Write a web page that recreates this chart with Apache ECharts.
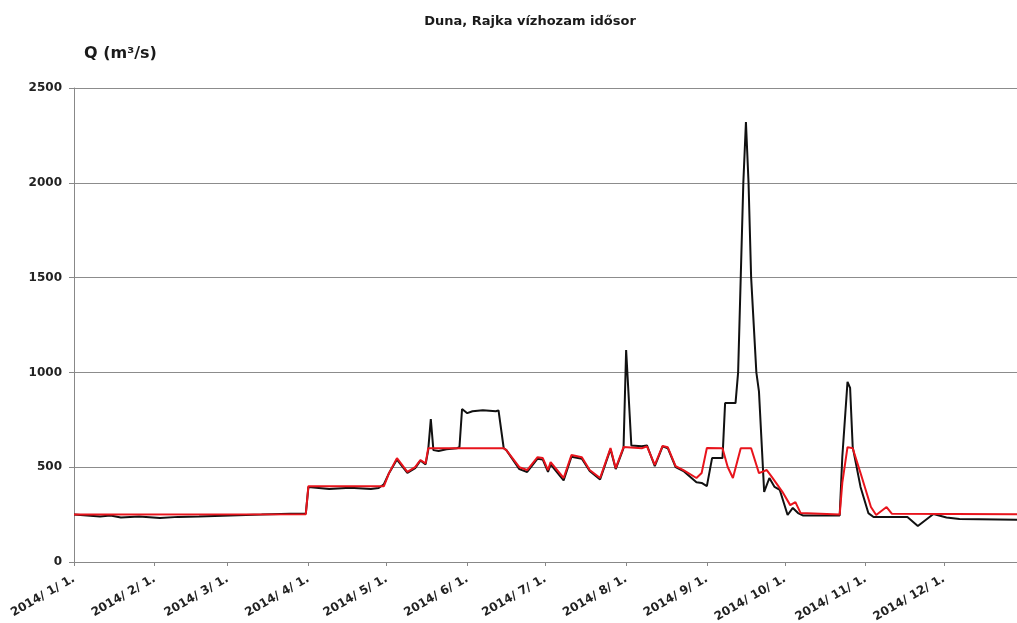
<!DOCTYPE html>
<html>
<head>
<meta charset="utf-8">
<script src="https://cdn.jsdelivr.net/npm/echarts@6/dist/echarts.min.js"></script>
<style>
html,body{margin:0;padding:0;background:#fff;}
#chart{width:1017px;height:623px;}
</style>
</head>
<body>
<div id="chart"></div>
<script>
// Day-of-year index (0 = 2014-01-01) and discharge values
var blackDays = [0, 10, 14, 18, 25, 33, 40, 48, 60, 72, 83, 89, 90, 98, 106, 114, 117, 119, 121, 124, 128, 131, 133, 135, 136, 137, 138, 140, 143, 147, 148, 149, 151, 153, 157, 162, 163, 165, 166, 171, 174, 178, 180, 182, 183, 188, 191, 195, 198, 202, 206, 208, 211, 212, 214, 218, 220, 223, 226, 228, 231, 234, 239, 241, 243, 245, 249, 250, 254, 255, 256, 257, 258, 259, 260, 262, 263, 265, 267, 269, 271, 274, 276, 278, 280, 294, 295, 297, 298, 299, 302, 305, 307, 320, 324, 330, 335, 340, 364];
var blackValues = [250, 240, 245, 235, 240, 232, 238, 240, 245, 250, 255, 255, 395, 385, 392, 385, 390, 410, 470, 540, 470, 495, 535, 515, 590, 754, 590, 585, 595, 600, 605, 807, 785, 795, 800, 795, 800, 600, 590, 490, 475, 545, 540, 475, 515, 430, 555, 545, 480, 435, 595, 490, 600, 1118, 615, 610, 615, 505, 610, 600, 500, 480, 420, 417, 400, 548, 548, 838, 838, 1000, 1500, 2000, 2321, 2000, 1500, 1000, 900, 370, 443, 396, 380, 248, 285, 258, 245, 245, 554, 950, 918, 606, 396, 258, 237, 237, 190, 253, 235, 227, 222];

var redDays = [0, 89, 90, 119, 121, 124, 128, 131, 133, 135, 136, 165, 166, 171, 174, 178, 180, 182, 183, 188, 191, 195, 198, 202, 206, 208, 211, 218, 220, 223, 226, 228, 231, 234, 239, 241, 243, 249, 251, 253, 256, 260, 263, 266, 268, 272, 275, 277, 279, 294, 295, 297, 299, 302, 306, 308, 312, 314, 364];
var redValues = [250, 252, 400, 400, 470, 548, 475, 500, 538, 520, 600, 600, 590, 500, 485, 553, 548, 485, 527, 443, 564, 553, 485, 443, 601, 495, 606, 600, 610, 512, 612, 605, 506, 485, 443, 469, 601, 600, 501, 443, 600, 600, 469, 485, 448, 370, 300, 316, 258, 250, 417, 606, 600, 469, 290, 248, 290, 255, 252];

var tickLabels = ['2014/ 1/ 1.', '2014/ 2/ 1.', '2014/ 3/ 1.', '2014/ 4/ 1.', '2014/ 5/ 1.', '2014/ 6/ 1.', '2014/ 7/ 1.', '2014/ 8/ 1.', '2014/ 9/ 1.', '2014/ 10/ 1.', '2014/ 11/ 1.', '2014/ 12/ 1.'];
var yTicks = [0, 500, 1000, 1500, 2000, 2500];

// category axis: every day of 2014
var categories = [];
(function () {
  var d = new Date(Date.UTC(2014, 0, 1));
  for (var i = 0; i < 365; i++) {
    var m = d.getUTCMonth() + 1, day = d.getUTCDate();
    categories.push('2014-' + (m < 10 ? '0' + m : m) + '-' + (day < 10 ? '0' + day : day));
    d.setUTCDate(d.getUTCDate() + 1);
  }
})();
function isMonthStart(idx, val) { return /-01$/.test(val); }
function pairs(days, vals) { return days.map(function (d, i) { return [d, vals[i]]; }); }

var font = '"DejaVu Sans", Verdana, sans-serif';
var chart = echarts.init(document.getElementById('chart'), null, { renderer: 'canvas' });
chart.setOption({
  animation: false,
  backgroundColor: '#ffffff',
  title: {
    text: 'Duna, Rajka vízhozam idősor',
    left: 525, top: 10, textAlign: 'center',
    textStyle: { fontFamily: font, fontSize: 13, fontWeight: 'bold', color: '#1a1a1a' }
  },
  graphic: [{
    type: 'text', left: 84, top: 46,
    style: { text: 'Q (m³/s)', font: 'bold 16px ' + font, fill: '#1a1a1a' }
  }],
  grid: { left: 74, top: 88, width: 948, height: 474, containLabel: false, outerBoundsMode: 'none' },
  xAxis: {
    type: 'category',
    data: categories,
    boundaryGap: false,
    axisLine: { lineStyle: { color: '#888888', width: 1 } },
    axisTick: { interval: isMonthStart, length: 4, lineStyle: { color: '#888888' } },
    axisLabel: {
      interval: isMonthStart, rotate: 30, margin: 16,
      fontFamily: font, fontSize: 12, fontWeight: 'bold', color: '#222222',
      formatter: function (val) { return tickLabels[parseInt(val.substr(5, 2), 10) - 1]; }
    },
    splitLine: { show: false }
  },
  yAxis: {
    type: 'value',
    min: yTicks[0], max: yTicks[yTicks.length - 1], interval: 500,
    axisLine: { show: true, lineStyle: { color: '#888888', width: 1 } },
    axisTick: { show: true, length: 5, lineStyle: { color: '#888888' } },
    axisLabel: { fontFamily: font, fontSize: 12, fontWeight: 'bold', color: '#222222', margin: 12,
      formatter: function (v) { return String(v); } },
    splitLine: { show: true, lineStyle: { color: '#8c8c8c', width: 1 } }
  },
  series: [
    { name: 'black', type: 'line', data: pairs(blackDays, blackValues), showSymbol: false, symbol: 'none',
      lineStyle: { color: '#111111', width: 2 }, z: 2 },
    { name: 'red', type: 'line', data: pairs(redDays, redValues), showSymbol: false, symbol: 'none',
      lineStyle: { color: '#e8141c', width: 2 }, z: 3 }
  ]
});
</script>
</body>
</html>
